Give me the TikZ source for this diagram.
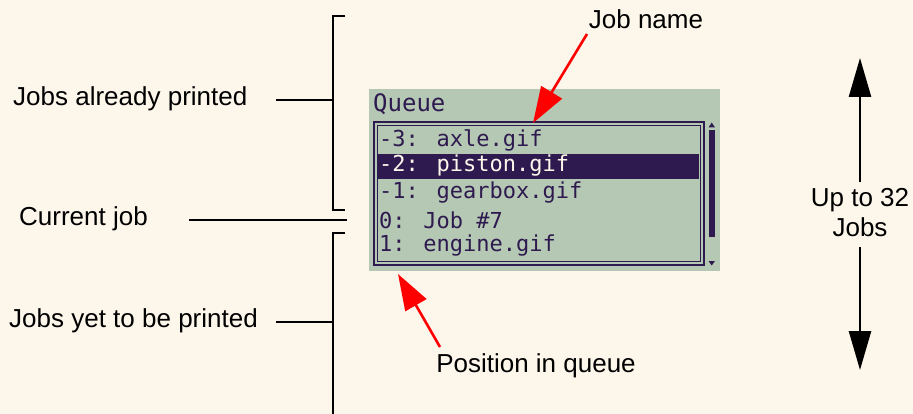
\documentclass[tikz,border=0pt]{standalone}
\usepackage{fontspec}
\setmainfont{Liberation Sans}
\newfontfamily\lcdfont{DejaVu Sans Mono}
\usetikzlibrary{positioning,arrows.meta}
\definecolor{bgCream}{HTML}{FDF6EB}
\definecolor{lcdGreen}{HTML}{B5C8B3}
\definecolor{lcdInk}{HTML}{2E1A4F}

\begin{document}
\begin{tikzpicture}[x=1pt,y=-1pt]
\tikzstyle{lbl}=[font=\fontsize{26}{30}\selectfont, inner sep=0pt]
\tikzstyle{row}=[font=\lcdfont\fontsize{22}{24}\selectfont, text=lcdInk, anchor=west, inner sep=0pt]
\tikzstyle{bracket}=[line width=2.2pt]
\tikzstyle{pointer}=[red, line width=2.6pt, -{Triangle[length=36pt, width=24pt]}]
\tikzstyle{span}=[line width=2.6pt, -{Triangle[length=39pt, width=22pt]}]
\fill[bgCream] (0,0) rectangle (913,414);
\useasboundingbox (0,0) rectangle (913,414);

% screen
\fill[lcdGreen] (369,89) rectangle (720,271);
\node[font=\lcdfont\fontsize{24}{26}\selectfont, text=lcdInk, anchor=west, inner sep=0pt] (queue) at (373,104) {Queue};
\draw[lcdInk, line width=2pt] (374,122) rectangle (704,265);
\draw[lcdInk, line width=0.9pt] (377.8,125.8) rectangle (700.2,261.2);
\fill[lcdInk] (378,154) rectangle (699,179);
\node[row] (r3) at (379,140) {-3: axle.gif};
\node[row, text=bgCream] (r2) at (379,166) {-2: piston.gif};
\node[row] (r1) at (379,193) {-1: gearbox.gif};
\node[row] (r0) at (379,220) {0: Job \#7};
\node[row] (rp1) at (379,246) {1: engine.gif};
% scrollbar
\fill[lcdInk] (708.5,130) rectangle (715,237);
\fill[lcdInk] (711.75,122.5) -- (715,127.5) -- (708.5,127.5) -- cycle;
\fill[lcdInk] (711.75,265.5) -- (715,261) -- (708.5,261) -- cycle;

% left labels
\node[lbl, anchor=west] (done) at (13,99) {Jobs already printed};
\node[lbl, anchor=west] (current) at (19,219) {Current job};
\node[lbl, anchor=west] (waiting) at (9,321) {Jobs yet to be printed};
\coordinate (doneB) at (333,100);
\coordinate (currentB) at (347,220);
\coordinate (waitingB) at (333,322);
\draw[bracket] (345,16) -- (333,16) -- (333,210) -- (345,210);
\draw[bracket] (345,233) -- (333,233) -- (333,414);
\draw[bracket] (276,100) -- (doneB);
\draw[bracket] (189,220) -- (currentB);
\draw[bracket] (276,322) -- (waitingB);

% pointers
\node[lbl] (jobname) at (646,19) {Job name};
\coordinate (jobnameTip) at (533,123);
\draw[pointer] (587,34) -- (jobnameTip);
\node[lbl] (position) at (536,366) {Position in queue};
\coordinate (positionTip) at (398,274);
\draw[pointer] (440,347) -- (positionTip);

% span
\node[lbl, align=center] (upto) at (860,213) {Up to 32\\Jobs};
\coordinate (spanTop) at (860,58);
\coordinate (spanBot) at (860,370);
\draw[span] (860,182) -- (spanTop);
\draw[span] (860,247) -- (spanBot);
\end{tikzpicture}
\end{document}
